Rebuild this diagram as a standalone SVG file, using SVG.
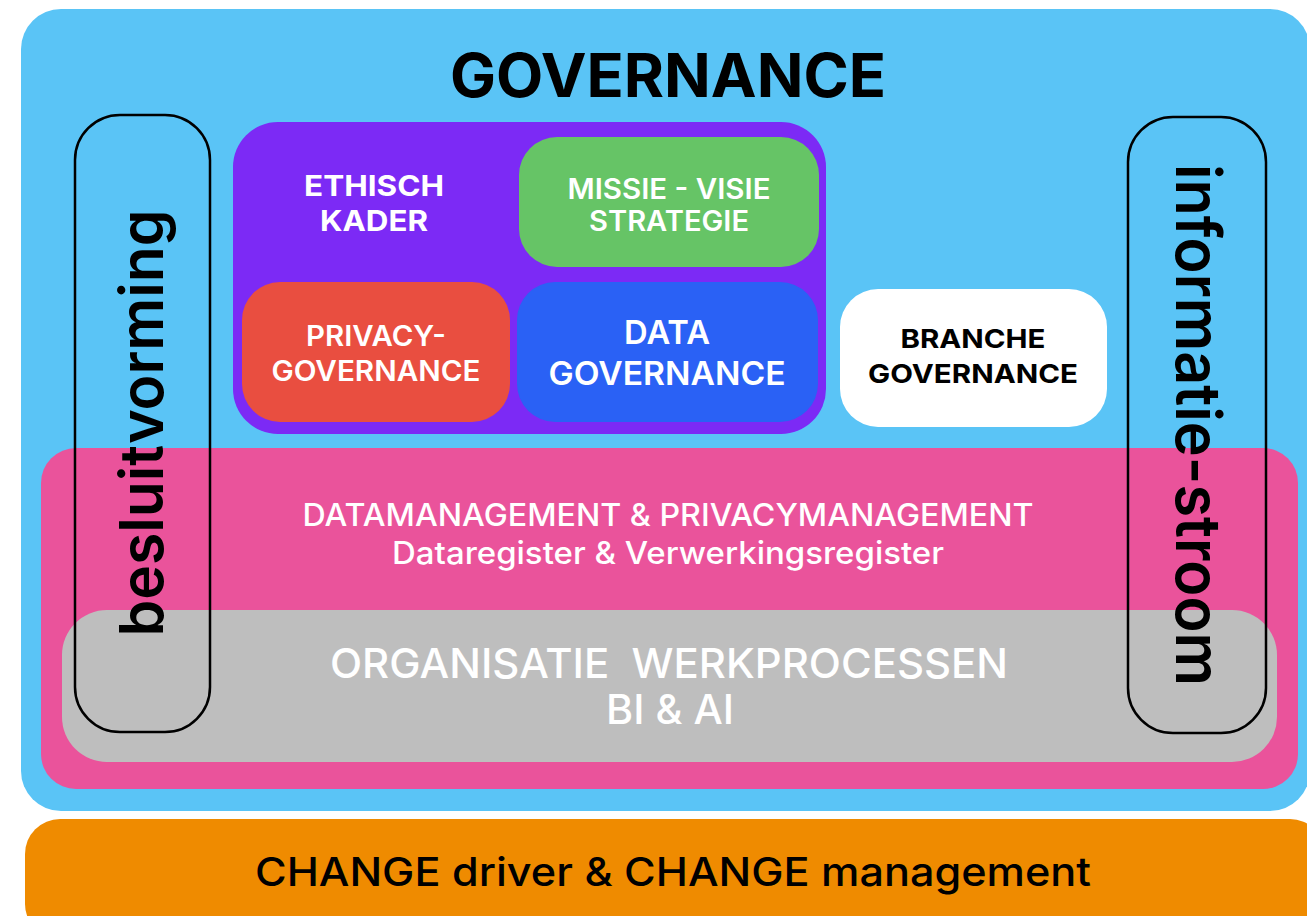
<svg xmlns="http://www.w3.org/2000/svg" width="1307" height="916" viewBox="0 0 1307 916">
<style>
text{font-family:Inter,"Noto Sans","Liberation Sans",sans-serif;text-anchor:middle}
.w{fill:#ffffff}
.k{fill:#000000}
.outline{fill:none;stroke:#000;stroke-width:2.5}
</style>
<rect x="0" y="0" width="1307" height="916" fill="#ffffff"/>
<g id="governance">
<rect x="21" y="9" width="1289" height="802" rx="40" fill="#5AC4F6"/>
<text x="668" y="97" class="k" font-size="60" font-weight="700" textLength="436" lengthAdjust="spacingAndGlyphs">GOVERNANCE</text>
</g>
<g id="governance-kern">
<rect x="233" y="122" width="593" height="312" rx="45" fill="#7C2AF5"/>
</g>
<g id="ethisch-kader">
<text x="374" y="196" class="w" font-size="29" font-weight="700" textLength="140" lengthAdjust="spacingAndGlyphs">ETHISCH</text>
<text x="374" y="231" class="w" font-size="29" font-weight="700" textLength="108" lengthAdjust="spacingAndGlyphs">KADER</text>
</g>
<g id="missie-visie">
<rect x="519" y="137" width="300" height="130" rx="38" fill="#66C466"/>
<text x="669" y="199" class="w" font-size="28" font-weight="600" textLength="203" lengthAdjust="spacingAndGlyphs">MISSIE - VISIE</text>
<text x="669" y="231" class="w" font-size="28" font-weight="600" textLength="160" lengthAdjust="spacingAndGlyphs">STRATEGIE</text>
</g>
<g id="privacy-governance">
<rect x="242" y="282" width="268" height="140" rx="38" fill="#E94E40"/>
<text x="376" y="346" class="w" font-size="28" font-weight="600" textLength="140" lengthAdjust="spacingAndGlyphs">PRIVACY-</text>
<text x="376" y="381" class="w" font-size="28" font-weight="600" textLength="209" lengthAdjust="spacingAndGlyphs">GOVERNANCE</text>
</g>
<g id="data-governance">
<rect x="517" y="282" width="301" height="140" rx="38" fill="#2A61F5"/>
<text x="667" y="344" class="w" font-size="33" font-weight="600" textLength="86" lengthAdjust="spacingAndGlyphs">DATA</text>
<text x="667" y="385" class="w" font-size="33" font-weight="600" textLength="237" lengthAdjust="spacingAndGlyphs">GOVERNANCE</text>
</g>
<g id="branche-governance">
<rect x="840" y="289" width="267" height="138" rx="38" fill="#ffffff"/>
<text x="973" y="348" class="k" font-size="26" font-weight="700" textLength="145" lengthAdjust="spacingAndGlyphs">BRANCHE</text>
<text x="973" y="383" class="k" font-size="26" font-weight="700" textLength="210" lengthAdjust="spacingAndGlyphs">GOVERNANCE</text>
</g>
<g id="datamanagement">
<rect x="41" y="448" width="1257" height="341" rx="35" fill="#EA539B"/>
<text x="668" y="526" class="w" font-size="31" font-weight="500" textLength="731" lengthAdjust="spacingAndGlyphs">DATAMANAGEMENT &amp; PRIVACYMANAGEMENT</text>
<text x="668" y="564" class="w" font-size="31" font-weight="500" textLength="552" lengthAdjust="spacingAndGlyphs">Dataregister &amp; Verwerkingsregister</text>
</g>
<g id="werkprocessen">
<rect x="62" y="610" width="1215" height="152" rx="45" fill="#BEBEBE"/>
<text x="669" y="678" class="w" font-size="41" font-weight="500" textLength="678" lengthAdjust="spacingAndGlyphs">ORGANISATIE&#160; WERKPROCESSEN</text>
<text x="670" y="724" class="w" font-size="41" font-weight="500" textLength="128" lengthAdjust="spacingAndGlyphs">BI &amp; AI</text>
</g>
<g id="besluitvorming">
<rect x="75" y="115" width="135" height="617" rx="45" class="outline"/>
<text transform="translate(163,423) rotate(-90)" x="0" y="0" class="k" font-size="60" font-weight="600" textLength="427" lengthAdjust="spacingAndGlyphs">besluitvorming</text>
</g>
<g id="informatie-stroom">
<rect x="1128" y="117" width="138" height="616" rx="45" class="outline"/>
<text transform="translate(1176,425) rotate(90)" x="0" y="0" class="k" font-size="62" font-weight="600" textLength="522" lengthAdjust="spacingAndGlyphs">informatie-stroom</text>
</g>
<g id="change">
<rect x="25" y="819" width="1300" height="120" rx="35" fill="#EF8B00"/>
<text x="673" y="886" class="k" font-size="40" font-weight="500" textLength="836" lengthAdjust="spacingAndGlyphs">CHANGE driver &amp; CHANGE management</text>
</g>
<g id="connectors"></g>
</svg>
